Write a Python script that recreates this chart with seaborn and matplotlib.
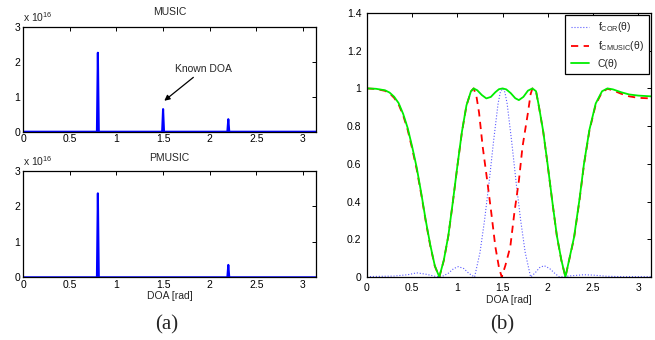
import numpy as np
import pandas as pd
import matplotlib
matplotlib.use('Agg')
import matplotlib.pyplot as plt
import seaborn as sns

# ---- (a) spectra: spikes ----
music_theta = [0.0, 0.79, 0.80, 0.81, 1.49, 1.50, 1.51, 2.19, 2.20, 2.21, np.pi]
music_vals = [0, 0, 2.27e16, 0, 0, 0.65e16, 0, 0, 0.36e16, 0, 0]
pmusic_theta = [0.0, 0.79, 0.80, 0.81, 2.19, 2.20, 2.21, np.pi]
pmusic_vals = [0, 0, 2.37e16, 0, 0, 0.35e16, 0, 0]

# ---- (b) curves ----
c_theta = [0.00, 0.10, 0.20, 0.25, 0.30, 0.35, 0.40, 0.45, 0.50, 0.55, 0.60, 0.65,
           0.70, 0.75, 0.80, 0.85, 0.90, 0.95, 1.00, 1.05, 1.10, 1.15, 1.18, 1.22,
           1.27, 1.32, 1.37, 1.42, 1.46, 1.50, 1.54, 1.59, 1.64, 1.68, 1.73, 1.78,
           1.83, 1.87, 1.90, 1.95, 2.00, 2.05, 2.10, 2.15, 2.195, 2.24, 2.29, 2.35,
           2.40, 2.46, 2.53, 2.60, 2.66, 2.72, 2.81, 2.90, 3.00, 3.1416]
c_vals = [1.000, 0.998, 0.990, 0.978, 0.956, 0.922, 0.865, 0.790, 0.690, 0.580, 0.445, 0.300,
          0.170, 0.060, 0.000, 0.090, 0.220, 0.400, 0.590, 0.770, 0.910, 0.985, 1.000, 0.990,
          0.965, 0.947, 0.955, 0.980, 0.996, 1.000, 0.995, 0.975, 0.948, 0.938, 0.955, 0.988,
          1.000, 0.985, 0.910, 0.770, 0.590, 0.400, 0.220, 0.090, 0.000, 0.100, 0.210, 0.410,
          0.600, 0.780, 0.920, 0.985, 1.000, 0.995, 0.980, 0.968, 0.962, 0.958]

cm_theta = [0.00, 0.10, 0.20, 0.25, 0.30, 0.35, 0.40, 0.45, 0.50, 0.55, 0.60, 0.65,
            0.70, 0.75, 0.80, 0.85, 0.90, 0.95, 1.00, 1.05, 1.10, 1.15, 1.18, 1.21,
            1.24, 1.28, 1.33, 1.375, 1.42, 1.46, 1.49, 1.53, 1.585, 1.63, 1.68, 1.72,
            1.78, 1.81, 1.83, 1.87, 1.90, 1.95, 2.00, 2.05, 2.10, 2.15, 2.195, 2.24,
            2.29, 2.35, 2.40, 2.46, 2.53, 2.60, 2.66, 2.72, 2.81, 2.90, 3.00, 3.1416]
cm_vals = [1.000, 0.997, 0.987, 0.974, 0.950, 0.915, 0.857, 0.780, 0.680, 0.570, 0.438, 0.295,
           0.165, 0.058, 0.000, 0.088, 0.218, 0.398, 0.588, 0.768, 0.908, 0.984, 1.000, 0.960,
           0.870, 0.690, 0.510, 0.340, 0.160, 0.050, 0.000, 0.060, 0.160, 0.340, 0.510, 0.690,
           0.870, 0.970, 1.000, 0.984, 0.908, 0.768, 0.588, 0.398, 0.218, 0.088, 0.000, 0.098,
           0.205, 0.405, 0.595, 0.775, 0.915, 0.980, 0.998, 0.990, 0.972, 0.958, 0.950, 0.947]

cor_theta = [0.00, 0.30, 0.45, 0.55, 0.65, 0.75, 0.82, 0.90, 0.96, 1.01, 1.07, 1.13,
             1.19, 1.25, 1.30, 1.35, 1.40, 1.45, 1.475, 1.50, 1.525, 1.55, 1.60, 1.65,
             1.70, 1.75, 1.81, 1.86, 1.91, 1.96, 2.02, 2.08, 2.13, 2.25, 2.40, 2.50,
             2.65, 2.80, 3.1416]
cor_vals = [0.002, 0.005, 0.012, 0.022, 0.015, 0.004, 0.000, 0.020, 0.045, 0.055, 0.045, 0.018,
            0.000, 0.130, 0.300, 0.500, 0.720, 0.920, 0.980, 1.000, 0.980, 0.920, 0.720, 0.500,
            0.300, 0.130, 0.000, 0.022, 0.050, 0.060, 0.045, 0.018, 0.000, 0.006, 0.012, 0.010,
            0.004, 0.002, 0.002]

x_ticks = [0, 0.5, 1, 1.5, 2, 2.5, 3]
x_labels = ['0', '0.5', '1', '1.5', '2', '2.5', '3']
yl_ticks = [0, 1, 2, 3]
yr_ticks = [0, 0.2, 0.4, 0.6, 0.8, 1.0, 1.2, 1.4]
yr_labels = ['0', '0.2', '0.4', '0.6', '0.8', '1', '1.2', '1.4']

sns.set_style('white')
plt.rcParams['font.family'] = ['Liberation Sans', 'DejaVu Sans']
plt.rcParams['mathtext.fontset'] = 'custom'
plt.rcParams['mathtext.rm'] = 'Liberation Sans'
plt.rcParams['mathtext.it'] = 'Liberation Sans:italic'
fs = 7.5

fig = plt.figure(figsize=(6.55, 3.4), dpi=100)
ax1 = fig.add_axes([0.0356, 0.6126, 0.4469, 0.307])
ax2 = fig.add_axes([0.0356, 0.1844, 0.4469, 0.3126])
ax3 = fig.add_axes([0.5603, 0.1853, 0.4336, 0.7765])


def style(ax):
    for s in ax.spines.values():
        s.set_visible(True)
        s.set_color('black')
        s.set_linewidth(0.9)
    ax.tick_params(direction='in', top=True, right=True, length=3, width=0.7,
                   labelsize=fs, pad=2, colors='black')
    ax.set_xlim(0, np.pi)
    ax.set_xticks(x_ticks)
    ax.set_xticklabels(x_labels)


for ax, th, v, title, tpad in [(ax1, music_theta, music_vals, 'MUSIC', 9),
                               (ax2, pmusic_theta, pmusic_vals, 'PMUSIC', 7)]:
    sns.lineplot(x=th, y=np.array(v) / 1e16, ax=ax, color='#0000ff', lw=1.5, sort=False)
    style(ax)
    ax.set_ylim(0, 3)
    ax.set_yticks(yl_ticks)
    ax.set_yticklabels([str(t) for t in yl_ticks])
    ax.set_title(title, fontsize=fs, pad=tpad)
    ax.text(0.0, 1.03, r'x 10$^{16}$', transform=ax.transAxes, fontsize=fs,
            ha='left', va='bottom')

ax1.annotate('Known DOA', xy=(1.513, 0.89), xytext=(1.63, 1.8), fontsize=fs,
             ha='left', va='center',
             arrowprops=dict(arrowstyle='-|>', color='black', lw=0.9,
                             mutation_scale=8, shrinkA=0, shrinkB=0))
ax2.set_xlabel('DOA [rad]', fontsize=fs, labelpad=1)

sns.lineplot(x=cor_theta, y=cor_vals, ax=ax3, color='#5a5aff', lw=0.8,
             linestyle=':', sort=False)
sns.lineplot(x=cm_theta, y=cm_vals, ax=ax3, color='#ff0000', lw=1.3,
             linestyle=(0, (4, 3)), sort=False)
sns.lineplot(x=c_theta, y=c_vals, ax=ax3, color='#00ee00', lw=1.3, sort=False)
style(ax3)
ax3.tick_params(pad=4)
ax3.set_ylim(0, 1.4)
ax3.set_yticks(yr_ticks)
ax3.set_yticklabels(yr_labels)
ax3.set_xlabel('DOA [rad]', fontsize=fs, labelpad=2)
ax3.set_ylabel('')
lines = ax3.get_lines()
leg = ax3.legend(lines[:3], [r'f$_{\rm COR}$(θ)', r'f$_{\rm CMUSIC}$(θ)', 'C(θ)'],
                 loc='upper right', fontsize=fs, frameon=True, fancybox=False,
                 framealpha=1, edgecolor='black', handlelength=1.8,
                 labelspacing=0.5, borderpad=0.5, borderaxespad=0.2)
leg.get_frame().set_linewidth(0.9)

fig.text(0.255, 0.045, '(a)', fontsize=15, family='Liberation Serif', ha='center', va='center')
fig.text(0.766, 0.045, '(b)', fontsize=15, family='Liberation Serif', ha='center', va='center')

fig.savefig('out.png', dpi=100)
